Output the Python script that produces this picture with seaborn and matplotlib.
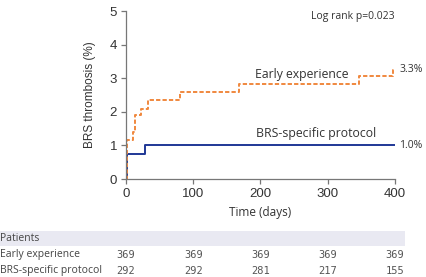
import matplotlib
matplotlib.use("Agg")
import matplotlib.pyplot as plt
import seaborn as sns
import pandas as pd
from matplotlib.patches import Rectangle

# ---- data ----
early_time = [0, 1, 11, 13, 23, 33, 81, 168, 347, 397, 400]
early_value = [0, 1.15, 1.4, 1.9, 2.08, 2.35, 2.6, 2.83, 3.07, 3.25, 3.25]
brs_time = [0, 1, 28, 400]
brs_value = [0, 0.75, 1.0, 1.0]

x_ticks = [0, 100, 200, 300, 400]
y_ticks = [0, 1, 2, 3, 4, 5]
risk_labels = ["Early experience", "BRS-specific protocol"]
risk_early = [369, 369, 369, 369, 369]
risk_brs = [292, 292, 281, 217, 155]

df = pd.concat([
    pd.DataFrame({"time": early_time, "value": early_value, "group": "Early experience"}),
    pd.DataFrame({"time": brs_time, "value": brs_value, "group": "BRS-specific protocol"}),
])

sns.set_theme(style="white")
plt.rcParams["font.family"] = ["Liberation Sans", "DejaVu Sans"]

fig = plt.figure(figsize=(4.27, 2.77), dpi=100)
ax = fig.add_axes([126/427, 1-179/277, (395-126)/427, (179-11)/277])

orange = "#f0883e"
navy = "#1f3796"
sns.lineplot(data=df[df.group == "BRS-specific protocol"], x="time", y="value",
             drawstyle="steps-post", color=navy, lw=1.4, ax=ax, legend=False)
sns.lineplot(data=df[df.group == "Early experience"], x="time", y="value",
             drawstyle="steps-post", color=orange, lw=1.4, ax=ax, legend=False,
             dashes=False, linestyle=(0, (2.2, 1.1)))

ax.set_xlim(0, 400)
ax.set_ylim(0, 5)
ax.set_xticks(x_ticks)
ax.set_yticks(y_ticks)
for s in ["top", "right"]:
    ax.spines[s].set_visible(False)
for s in ["left", "bottom"]:
    ax.spines[s].set_color("#777777")
    ax.spines[s].set_linewidth(0.9)
ax.tick_params(axis="both", direction="out", length=3.5, width=0.9, color="#777777",
               labelsize=9.5, labelcolor="#333333", pad=3, left=True, bottom=True)
hum = ["Open Sans", "DejaVu Sans"]
ax.set_xlabel("Time (days)", fontsize=8.5, color="#333333", family=hum, labelpad=4)
ax.set_ylabel("BRS thrombosis (%)", fontsize=8.5, color="#333333", labelpad=10)

ax.text(337, 4.84, "Log rank p=0.023", ha="center", va="center", fontsize=7.5, color="#333333", family=hum)
ax.text(262, 3.1, "Early experience", ha="center", va="center", fontsize=8.8, color="#333333", family=hum)
ax.text(283, 1.34, "BRS-specific protocol", ha="center", va="center", fontsize=8.8, color="#333333", family=hum)
ax.text(406, 3.25, "3.3%", ha="left", va="center", fontsize=7.5, color="#333333", family=hum, clip_on=False)
ax.text(406, 1.0, "1.0%", ha="left", va="center", fontsize=7.5, color="#333333", family=hum, clip_on=False)

# ---- risk table ----
fig.patches.append(Rectangle((0, 1-246/277), 405/427, 15/277, transform=fig.transFigure,
                             facecolor="#e9e9f2", edgecolor="none", zorder=0))
fig.text(0, 1-238.5/277, "Patients", ha="left", va="center", fontsize=7.5, color="#444444", family=hum)
row_y = [1-254.5/277, 1-270.5/277]
for lab, yy in zip(risk_labels, row_y):
    fig.text(0.5/427, yy, lab, ha="left", va="center", fontsize=7.5, color="#444444", family=hum)
for vals, yy in zip([risk_early, risk_brs], row_y):
    for xt, v in zip(x_ticks, vals):
        xf = ax.transData.transform((xt, 0))[0] / fig.bbox.width
        fig.text(xf, yy, str(v), ha="center", va="center", fontsize=7.5, color="#555555",
                 family=["DejaVu Sans Mono"])

fig.savefig("out.png", dpi=100)
